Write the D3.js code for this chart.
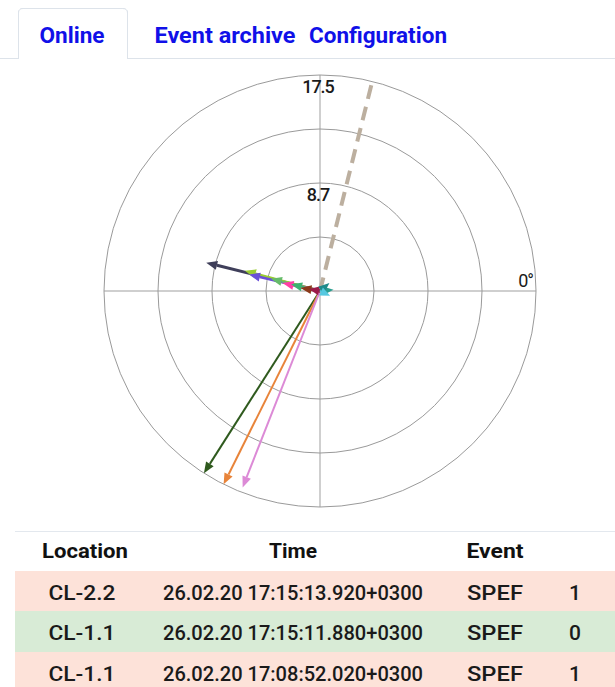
<!DOCTYPE html>
<html>
<head>
<meta charset="utf-8">
<script src="https://cdn.jsdelivr.net/npm/d3@7"></script>
<style>
  html, body { margin: 0; padding: 0; background: #fff; }
  svg { display: block; }
</style>
</head>
<body>
<svg id="chart" width="615" height="687"></svg>
<script>
// ---- data ----
const tabs = ["Online", "Event archive", "Configuration"];
const radialTicks = [4.375, 8.75, 13.125, 17.5];
const radialTickLabels = ["", "8.7", "", "17.5"];
const angleLabel = "0°";
const vectorColors = ["#bcaf9f", "#2f5a1e", "#e8843a", "#dc8ad6", "#3f3f5a", "#9acd32", "#6a4fd8", "#66bb6a", "#ff3ea5", "#3cb371", "#8b3a1a", "#9b1b4a", "#2a9d8f", "#1f8a8a", "#56c8e0"];
const vectorMagnitudes = [17.5, 17.5, 17.5, 17.1, 9.5, 6.3, 5.9, 4.1, 3.1, 2.4, 1.6, 0.9, 1.1, 1.0, 0.9];
const vectorAngles = [76, 237.5, 243.5, 248.5, 166, 165, 167, 166, 168, 167, 171, 170, 5, 40, -25];
const vectorDashed = [true, false, false, false, false, false, false, false, false, false, false, false, false, false, false];
const vectorWidths = [4, 2, 2, 2, 3, 2.5, 2.5, 2, 3, 2, 3, 3, 2, 2, 2];
const tableHeaders = ["Location", "Time", "Event", ""];
const rowLocations = ["CL-2.2", "CL-1.1", "CL-1.1"];
const rowTimes = ["26.02.20 17:15:13.920+0300", "26.02.20 17:15:11.880+0300", "26.02.20 17:08:52.020+0300"];
const rowEvents = ["SPEF", "SPEF", "SPEF"];
const rowValues = ["1", "0", "1"];
const rowColors = ["#fde2d9", "#d8ebd6", "#fde2d9"];

// ---- drawing ----
const svg = d3.select("#chart");
const font = "Roboto, 'Noto Sans', sans-serif";

// Tabs
svg.append("path")
  .attr("d", "M0,58.5 H18.5 V13 Q18.5,8.5 23,8.5 H122.5 Q127.5,8.5 127.5,13 V58.5 H615")
  .attr("fill", "none").attr("stroke", "#dde3ea").attr("stroke-width", 1);
svg.append("rect").attr("x", 19).attr("y", 9).attr("width", 108).attr("height", 50).attr("fill", "#fff");
svg.append("line").attr("x1", 18.5).attr("x2", 18.5).attr("y1", 13).attr("y2", 59).attr("stroke", "#dde3ea");
svg.append("line").attr("x1", 127.5).attr("x2", 127.5).attr("y1", 13).attr("y2", 59).attr("stroke", "#dde3ea");
svg.append("path").attr("d", "M18.5,13 Q18.5,8.5 23,8.5 H122.5 Q127.5,8.5 127.5,13").attr("fill", "none").attr("stroke", "#dde3ea");
const tabX = [72, 225, 378];
const tabW = [65, 141, 138];
svg.selectAll("text.tab").data(tabs).join("text")
  .attr("class", "tab")
  .attr("x", (d, i) => tabX[i]).attr("y", 43)
  .attr("text-anchor", "middle")
  .attr("font-family", font).attr("font-weight", 700).attr("font-size", 21.5)
  .attr("textLength", (d, i) => tabW[i]).attr("lengthAdjust", "spacingAndGlyphs")
  .attr("fill", "#1010e8")
  .text(d => d);

// Polar chart
const cx = 320, cy = 291, R = 216;
const r = d3.scaleLinear().domain([0, 17.5]).range([0, R]);
const g = svg.append("g").attr("transform", `translate(${cx},${cy})`);

// axes
g.append("line").attr("x1", -R).attr("x2", R).attr("y1", 0).attr("y2", 0).attr("stroke", "#cfcfcf").attr("stroke-width", 2);
g.append("line").attr("x1", 0).attr("x2", 0).attr("y1", -R).attr("y2", R).attr("stroke", "#cfcfcf").attr("stroke-width", 2);

g.selectAll("circle.ring").data(radialTicks).join("circle")
  .attr("class", "ring")
  .attr("r", d => r(d)).attr("fill", "none").attr("stroke", "#9a9a9a").attr("stroke-width", 1);

g.selectAll("text.rlab").data(radialTicks).join("text")
  .attr("class", "rlab")
  .attr("x", -2).attr("y", d => -r(d) + 18)
  .attr("text-anchor", "middle")
  .attr("font-family", font).attr("font-size", 18).attr("font-weight", 500)
  .attr("letter-spacing", -1)
  .attr("fill", "#1a1a1a")
  .text((d, i) => radialTickLabels[i]);

g.append("text").attr("x", R - 3).attr("y", -4).attr("text-anchor", "end")
  .attr("font-family", font).attr("font-size", 18).attr("fill", "#1a1a1a")
  .attr("letter-spacing", -1)
  .text(angleLabel);

// vectors
const toXY = (m, a) => {
  const rad = a * Math.PI / 180;
  return [r(m) * Math.cos(rad), -r(m) * Math.sin(rad)];
};
vectorMagnitudes.forEach((m, i) => {
  const [x, y] = toXY(m, vectorAngles[i]);
  const col = vectorColors[i];
  const len = Math.hypot(x, y);
  const ux = x / len, uy = y / len;
  const headL = vectorDashed[i] ? 0 : Math.min(11, len * 0.9);
  const headW = vectorDashed[i] ? 0 : 4.5;
  const bx = x - ux * headL, by = y - uy * headL;
  g.append("line")
    .attr("x1", 0).attr("y1", 0).attr("x2", vectorDashed[i] ? x : bx).attr("y2", vectorDashed[i] ? y : by)
    .attr("stroke", col).attr("stroke-width", vectorWidths[i])
    .attr("stroke-dasharray", vectorDashed[i] ? "14,8" : null);
  if (!vectorDashed[i]) {
    const px = -uy, py = ux;
    g.append("path")
      .attr("d", `M${x},${y} L${bx + px * headW},${by + py * headW} L${bx - px * headW},${by - py * headW} Z`)
      .attr("fill", col);
  }
});

// Table
svg.append("line").attr("x1", 15).attr("x2", 615).attr("y1", 531.5).attr("y2", 531.5).attr("stroke", "#e3e8ee");
const colX = [85, 293, 495, 575];
const headW = [86, 48, 57, 0];
svg.selectAll("text.th").data(tableHeaders).join("text")
  .attr("class", "th")
  .attr("x", (d, i) => colX[i]).attr("y", 558)
  .attr("text-anchor", "middle")
  .attr("font-family", font).attr("font-weight", 700).attr("font-size", 21)
  .attr("textLength", (d, i) => headW[i] || null).attr("lengthAdjust", "spacingAndGlyphs")
  .attr("fill", "#111")
  .text(d => d);

const rowY = [571, 611, 652];
const cellW = [67, 260, 56, 0];
rowLocations.forEach((loc, i) => {
  svg.append("rect").attr("x", 15).attr("y", rowY[i]).attr("width", 600).attr("height", i === 2 ? 40 : rowY[i + 1] - rowY[i]).attr("fill", rowColors[i]);
  const cells = [loc, rowTimes[i], rowEvents[i], rowValues[i]];
  cells.forEach((c, j) => {
    const t = svg.append("text")
      .attr("x", colX[j] + (j === 0 ? -3 : 0)).attr("y", rowY[i] + 29)
      .attr("text-anchor", "middle")
      .attr("font-family", font).attr("font-weight", 500).attr("font-size", 21)
      .attr("fill", "#1a1a1a")
      .text(c);
    if (cellW[j]) t.attr("textLength", cellW[j]).attr("lengthAdjust", "spacingAndGlyphs");
  });
});
</script>
</body>
</html>
